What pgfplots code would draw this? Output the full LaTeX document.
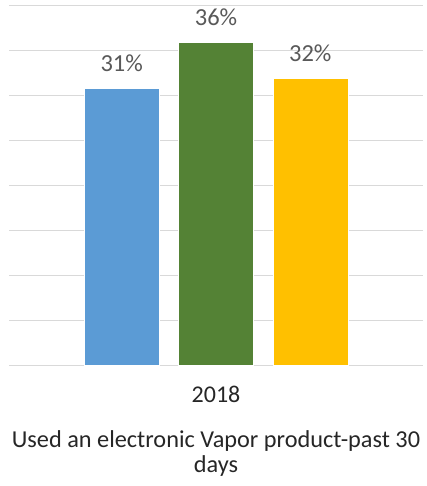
\documentclass[border=0pt]{standalone}
\usepackage{fontspec}
\setmainfont{Carlito}
\usepackage{pgfplots}
\pgfplotsset{compat=1.18}
\definecolor{cblue}{HTML}{5B9BD5}
\definecolor{cgreen}{HTML}{548235}
\definecolor{cyellow}{HTML}{FFC000}
\definecolor{gridc}{HTML}{D9D9D9}
\definecolor{lblc}{HTML}{595959}
\definecolor{txtc}{HTML}{262626}
\begin{document}
\begin{tikzpicture}
\path[use as bounding box] (-9pt,-121pt) rectangle (417pt,365pt);
\begin{axis}[
  at={(0pt,0pt)}, anchor=south west,
  scale only axis,
  width=414pt, height=359pt,
  xmin=-0.195, xmax=4.195,
  ymin=0, ymax=40,
  ytick={0,5,...,40}, yticklabels={},
  ymajorgrids, grid style={gridc, line width=1pt},
  major tick length=0pt,
  axis line style={draw=none},
  xtick={2}, xticklabels={2018},
  xticklabel style={font=\fontsize{24}{29}\selectfont, text=txtc, yshift=-18pt},
  ybar, bar width=0.795, bar shift=0pt,
  nodes near coords={\pgfmathprintnumber[fixed,precision=0,assume math mode=true]{\pgfplotspointmeta}\%},
  every node near coord/.append style={font=\fontsize{24.5}{29}\selectfont, text=lblc, yshift=13pt},
  clip=false,
]
\addplot[fill=cblue, draw=white, line width=0.5pt] coordinates {(1,30.8)};
\addplot[fill=cgreen, draw=white, line width=0.5pt] coordinates {(2,36.0)};
\addplot[fill=cyellow, draw=white, line width=0.5pt] coordinates {(3,32.0)};
\node[align=center, text=txtc, font=\fontsize{24.3}{25}\selectfont, anchor=north] at (rel axis cs:0.5,0) [yshift=-62pt] {Used an electronic Vapor product-past 30\\days};
\end{axis}
\end{tikzpicture}
\end{document}
